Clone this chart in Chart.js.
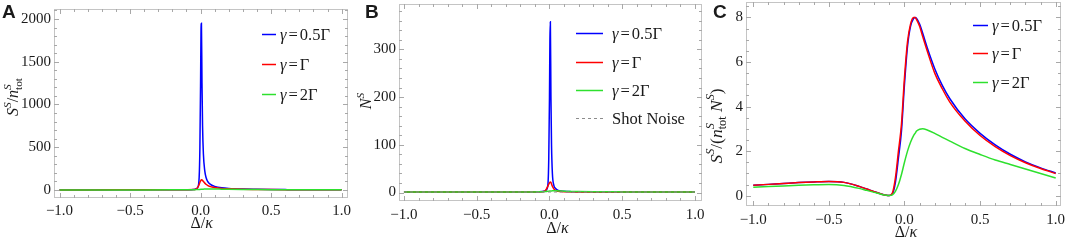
<!DOCTYPE html>
<html><head><meta charset="utf-8">
<script src="https://cdn.jsdelivr.net/npm/chart.js@4.4.0/dist/chart.umd.min.js"></script>
<style>
html,body{margin:0;padding:0;background:#fff}
body{width:1065px;height:242px;overflow:hidden;position:relative}
canvas{position:absolute;top:0}
</style></head><body>
<canvas id="cA" style="left:0"></canvas>
<canvas id="cB" style="left:355px"></canvas>
<canvas id="cC" style="left:705px"></canvas>
<script>
// ---------- data ----------
const seriesLabels = ['γ=0.5Γ', 'γ=Γ', 'γ=2Γ'];
const shotNoiseLabel = 'Shot Noise';
const xTickValues = [-1, -0.5, 0, 0.5, 1];
const xTickLabels = ['\u22121.0', '\u22120.5', '0.0', '0.5', '1.0'];
const yTicksA = [0, 500, 1000, 1500, 2000];
const yTicksB = [0, 100, 200, 300];
const yTicksC = [0, 2, 4, 6, 8];

// panel A & B detuning grid
const xAB = [-1, -0.8, -0.6, -0.4, -0.2, -0.1, -0.05, -0.04, -0.03, -0.02, -0.01, -0.005, 0, 0.003, 0.006, 0.01, 0.014, 0.02, 0.03, 0.04, 0.05, 0.06, 0.08, 0.1, 0.15, 0.2, 0.3, 0.4, 0.5, 0.6, 0.7, 0.8, 0.9, 1];
// A: S^S / n^S_tot
const aBlue  = [1, 1, 1.2, 1.5, 2, 3, 6, 9, 15, 30, 150, 480, 1250, 1850, 1950, 1250, 750, 420, 220, 140, 100, 78, 55, 42, 25, 17, 10, 7, 5, 4, 3, 2.5, 2, 1.8];
const aRed   = [1, 1, 1.2, 1.5, 2, 3, 4, 6, 12, 30, 65, 88, 105, 115, 120, 117, 110, 100, 80, 64, 54, 45, 35, 28, 18, 13, 8, 6, 4, 3, 2.5, 2, 1.7, 1.5];
const aGreen = [0.8, 0.8, 0.9, 1, 1.3, 1.8, 3, 3.5, 4.2, 5, 6, 6.5, 7, 7.5, 8, 8.5, 9, 9.5, 10.5, 11, 11.5, 11.5, 11.5, 11, 9.5, 8, 6, 4.5, 3.5, 3, 2.5, 2.2, 2, 1.8];
// B: N^S
const bBlue  = [1, 1, 1, 1, 1.1, 1.3, 2, 2.5, 3.5, 6, 20, 70, 200, 320, 358, 200, 100, 40, 15, 9, 6, 4.5, 3, 2.4, 1.8, 1.5, 1.3, 1.2, 1.1, 1.1, 1.05, 1.05, 1, 1];
const bRed   = [1, 1, 1, 1, 1.1, 1.3, 1.8, 2.3, 3.5, 8, 14, 17.5, 20, 21.5, 22, 21, 18, 13, 7.5, 4.5, 3.3, 2.7, 2.1, 1.8, 1.5, 1.3, 1.2, 1.1, 1.1, 1.05, 1, 1, 1, 1];
const bGreen = [1, 1, 1, 1, 1.1, 1.3, 1.6, 1.8, 2, 2.3, 2.6, 2.8, 3, 3.1, 3.2, 3.3, 3.4, 3.5, 3.6, 3.6, 3.5, 3.4, 3.1, 2.8, 2.3, 2, 1.6, 1.4, 1.3, 1.2, 1.15, 1.1, 1.05, 1];
const shotX = [-1, 1];
const shotY = [1, 1];
// C: S^S / (n^S_tot N^S)
const xC = [-1, -0.9, -0.8, -0.7, -0.6, -0.5, -0.4, -0.3, -0.25, -0.2, -0.15, -0.12, -0.1, -0.08, -0.06, -0.04, -0.02, 0, 0.02, 0.04, 0.06, 0.07, 0.08, 0.1, 0.12, 0.15, 0.2, 0.25, 0.3, 0.4, 0.5, 0.6, 0.7, 0.8, 0.9, 1];
const cBlue  = [0.47, 0.51, 0.55, 0.59, 0.62, 0.64, 0.6, 0.42, 0.3, 0.18, 0.07, 0.02, 0.01, 0.08, 0.6, 1.7, 2.9, 5.0, 6.7, 7.6, 7.95, 8.0, 7.95, 7.7, 7.3, 6.65, 5.7, 4.95, 4.35, 3.45, 2.8, 2.28, 1.86, 1.52, 1.25, 1.02];
const cRed   = [0.47, 0.51, 0.55, 0.59, 0.62, 0.64, 0.6, 0.42, 0.3, 0.18, 0.07, 0.02, 0.01, 0.12, 0.8, 2.0, 3.2, 5.3, 6.9, 7.7, 8.0, 8.0, 7.9, 7.6, 7.15, 6.5, 5.5, 4.8, 4.2, 3.35, 2.7, 2.2, 1.8, 1.48, 1.22, 1.0];
const cGreen = [0.38, 0.41, 0.44, 0.47, 0.49, 0.5, 0.46, 0.33, 0.24, 0.15, 0.06, 0.02, 0.01, 0.04, 0.2, 0.5, 0.95, 1.5, 2.0, 2.4, 2.7, 2.8, 2.9, 2.98, 3.0, 2.95, 2.8, 2.62, 2.45, 2.12, 1.85, 1.6, 1.4, 1.2, 1.0, 0.8];

// ---------- styling ----------
const SERIF = "'Liberation Serif', 'Times New Roman', serif";
const SANS = "'Liberation Sans', Arial, sans-serif";
const BLUE = '#0000ff', RED = '#ff0000', GREEN = '#2ee02e', SHOT = '#8c8c8c';
const TXT = '#1a1a1a';

const pts = (xs, ys) => xs.map((x, i) => ({x, y: ys[i]}));
function ds(label, xs, ys, color, order, extra) {
  return Object.assign({label, data: pts(xs, ys), borderColor: color, backgroundColor: color,
    borderWidth: 1.5, pointRadius: 0, fill: false, order, cubicInterpolationMode: 'monotone'}, extra || {});
}

function segFont(size, it) { return (it ? 'italic ' : '') + size + 'px ' + SERIF; }
function segWidth(ctx, s, size) {
  if (s.stack) {
    ctx.font = segFont(size * 0.7, s.stack[0].i); const w1 = ctx.measureText(s.stack[0].t).width;
    ctx.font = segFont(size * 0.7, s.stack[1].i); const w2 = ctx.measureText(s.stack[1].t).width;
    return Math.max(w1, w2);
  }
  ctx.font = segFont(s.p ? size * 0.7 : size, s.i);
  return ctx.measureText(s.t).width + (s.pad || 0) * 2;
}
function drawRich(ctx, segs, x, y, size, align) {
  let w = 0; segs.forEach(s => w += segWidth(ctx, s, size));
  let cx = align === 'center' ? x - w / 2 : x;
  ctx.textAlign = 'left'; ctx.textBaseline = 'alphabetic';
  for (const s of segs) {
    if (s.stack) {
      const sz = size * 0.7;
      ctx.font = segFont(sz, s.stack[0].i); ctx.fillText(s.stack[0].t, cx, y - size * 0.42);
      ctx.font = segFont(sz, s.stack[1].i); ctx.fillText(s.stack[1].t, cx, y + size * 0.25);
      cx += segWidth(ctx, s, size);
    } else {
      const sz = s.p ? size * 0.7 : size;
      const dy = s.p === 'sup' ? -size * 0.42 : (s.p === 'sub' ? size * 0.25 : 0);
      ctx.font = segFont(sz, s.i);
      ctx.fillText(s.t, cx + (s.pad || 0), y + dy);
      cx += segWidth(ctx, s, size);
    }
  }
}
function labelSegs(str) {
  return Array.from(str).map(ch => ({t: ch, i: ch === 'γ', pad: ch === '=' ? 2 : 0}));
}

function decoPlugin(cfg) {
  return {
    id: 'deco',
    beforeDatasetsDraw(chart) {
      const {ctx, chartArea: a, scales: {x, y}} = chart;
      ctx.save();
      ctx.strokeStyle = '#c4c4c4'; ctx.lineWidth = 1;
      ctx.strokeRect(a.left + 0.5, a.top + 0.5, a.right - a.left - 1, a.bottom - a.top - 1);
      ctx.strokeStyle = '#a8a8a8';
      ctx.beginPath();
      const tickRange = (min, max, step, major, fn) => {
        for (let i = Math.ceil(min / step - 1e-9); i <= Math.floor(max / step + 1e-9); i++) {
          const v = i * step, r = v / major;
          fn(v, Math.abs(r - Math.round(r)) < 1e-6);
        }
      };
      tickRange(x.min, x.max, 0.1, 0.5, (v, maj) => {
        const px = Math.round(x.getPixelForValue(v)) + 0.5, L = maj ? 5 : 3;
        ctx.moveTo(px, a.bottom); ctx.lineTo(px, a.bottom - L);
        ctx.moveTo(px, a.top); ctx.lineTo(px, a.top + L);
      });
      tickRange(y.min, y.max, cfg.yMinor, cfg.yMajor, (v, maj) => {
        const py = Math.round(y.getPixelForValue(v)) + 0.5, L = maj ? 5 : 3;
        ctx.moveTo(a.left, py); ctx.lineTo(a.left + L, py);
        ctx.moveTo(a.right, py); ctx.lineTo(a.right - L, py);
      });
      ctx.stroke();
      ctx.restore();
    },
    afterDraw(chart) {
      const ctx = chart.ctx;
      ctx.save();
      ctx.fillStyle = TXT;
      // panel letter
      ctx.font = 'bold 19px ' + SANS; ctx.textAlign = 'left'; ctx.textBaseline = 'alphabetic';
      ctx.fillText(cfg.letter, cfg.letterPos[0], cfg.letterPos[1]);
      // x title
      drawRich(ctx, [{t: 'Δ'}, {t: '/'}, {t: 'κ', i: true}], cfg.xTitle[0], cfg.xTitle[1] + 5, 16, 'center');
      // y title
      ctx.save();
      ctx.translate(cfg.yTitle[0] + 5, cfg.yTitle[1]);
      ctx.rotate(-Math.PI / 2);
      drawRich(ctx, cfg.yTitleSegs, 0, 0, cfg.yTitleSize, 'center');
      ctx.restore();
      // legend
      const L = cfg.legend;
      L.items.forEach((it, k) => {
        const yy = L.ys[k];
        ctx.save();
        ctx.strokeStyle = it.color; ctx.lineWidth = it.dash ? 1 : 1.5;
        if (it.dash) ctx.setLineDash(it.dash);
        ctx.beginPath(); ctx.moveTo(L.x1, yy + 0.5); ctx.lineTo(L.x2, yy + 0.5); ctx.stroke();
        ctx.restore();
        ctx.fillStyle = TXT;
        drawRich(ctx, labelSegs(it.label), L.tx, yy + 5.5, 16.5, 'left');
      });
      ctx.restore();
    }
  };
}

function makePanel(id, W, cfg) {
  const cv = document.getElementById(id);
  cv.width = W; cv.height = 242;
  const a = cfg.area;
  return new Chart(cv, {
    type: 'line',
    data: {datasets: cfg.datasets},
    options: {
      responsive: false, animation: false, events: [],
      layout: {padding: {left: 0, top: a.top, right: W - a.right, bottom: 0}},
      plugins: {legend: {display: false}, tooltip: {enabled: false}},
      scales: {
        x: {
          type: 'linear', min: cfg.xmin, max: cfg.xmax,
          afterBuildTicks: s => { s.ticks = xTickValues.map(v => ({value: v})); },
          afterFit: s => { s.height = 242 - a.bottom; s.paddingLeft = 0; s.paddingRight = 0; },
          grid: {display: false, drawTicks: false}, border: {display: false},
          ticks: {autoSkip: false, maxRotation: 0, minRotation: 0, padding: cfg.xPad, color: TXT,
            font: {family: SERIF, size: 15}, callback: (v, i) => xTickLabels[i]}
        },
        y: {
          type: 'linear', min: cfg.ymin, max: cfg.ymax,
          afterBuildTicks: s => { s.ticks = cfg.yTicks.map(v => ({value: v})); },
          afterFit: s => { s.width = a.left; s.paddingTop = 0; s.paddingBottom = 0; },
          grid: {display: false, drawTicks: false}, border: {display: false},
          ticks: {autoSkip: false, padding: 3, color: TXT,
            font: {family: SERIF, size: 15}, callback: (v, i) => String(cfg.yTicks[i])}
        }
      }
    },
    plugins: [decoPlugin(cfg)]
  });
}

const legend3 = [{label: seriesLabels[0], color: BLUE}, {label: seriesLabels[1], color: RED}, {label: seriesLabels[2], color: GREEN}];

makePanel('cA', 355, {
  letter: 'A', letterPos: [2, 18],
  area: {left: 54, right: 348, top: 9, bottom: 198},
  xmin: -1.039, xmax: 1.045, ymin: -94, ymax: 2117, yTicks: yTicksA, yMajor: 500, yMinor: 100, xPad: 4,
  xTitle: [201.7, 223], yTitle: [13, 97], yTitleSize: 16,
  yTitleSegs: [{t: 'S', i: true}, {t: 'S', i: true, p: 'sup'}, {t: '/'}, {t: 'n', i: true}, {stack: [{t: 'S', i: true}, {t: 'tot'}]}],
  legend: {x1: 262, x2: 276, tx: 280, ys: [34, 64, 94], items: legend3},
  datasets: [ds(seriesLabels[2], xAB, aGreen, GREEN, 0), ds(seriesLabels[1], xAB, aRed, RED, 1), ds(seriesLabels[0], xAB, aBlue, BLUE, 2)]
});

makePanel('cB', 350, {
  letter: 'B', letterPos: [10, 18],
  area: {left: 44, right: 347, top: 4, bottom: 201},
  xmin: -1.034, xmax: 1.048, ymin: -17.8, ymax: 395, yTicks: yTicksB, yMajor: 100, yMinor: 20, xPad: 5,
  xTitle: [202.5, 228], yTitle: [11, 101], yTitleSize: 16,
  yTitleSegs: [{t: 'N', i: true}, {t: 'S', i: true, p: 'sup'}],
  legend: {x1: 221, x2: 248, tx: 257, ys: [33, 62, 90, 118],
    items: legend3.concat([{label: shotNoiseLabel, color: SHOT, dash: [3, 3]}])},
  datasets: [ds(shotNoiseLabel, shotX, shotY, SHOT, -1, {borderWidth: 1, borderDash: [3, 3]}),
    ds(seriesLabels[2], xAB, bGreen, GREEN, 0), ds(seriesLabels[1], xAB, bRed, RED, 1), ds(seriesLabels[0], xAB, bBlue, BLUE, 2)]
});

makePanel('cC', 360, {
  letter: 'C', letterPos: [8, 18],
  area: {left: 41, right: 356, top: 2, bottom: 206},
  xmin: -1.048, xmax: 1.035, ymin: -0.46, ymax: 8.69, yTicks: yTicksC, yMajor: 2, yMinor: 0.5, xPad: 5,
  xTitle: [201, 232], yTitle: [11.5, 126], yTitleSize: 17.5,
  yTitleSegs: [{t: 'S', i: true}, {t: 'S', i: true, p: 'sup'}, {t: '/('}, {t: 'n', i: true}, {stack: [{t: 'S', i: true}, {t: 'tot'}]}, {t: ' N', i: true}, {t: 'S', i: true, p: 'sup'}, {t: ')'}],
  legend: {x1: 268, x2: 283, tx: 287, ys: [25, 53, 82], items: legend3},
  datasets: [ds(seriesLabels[2], xC, cGreen, GREEN, 0), ds(seriesLabels[1], xC, cRed, RED, 1), ds(seriesLabels[0], xC, cBlue, BLUE, 2)]
});
</script>
</body></html>
